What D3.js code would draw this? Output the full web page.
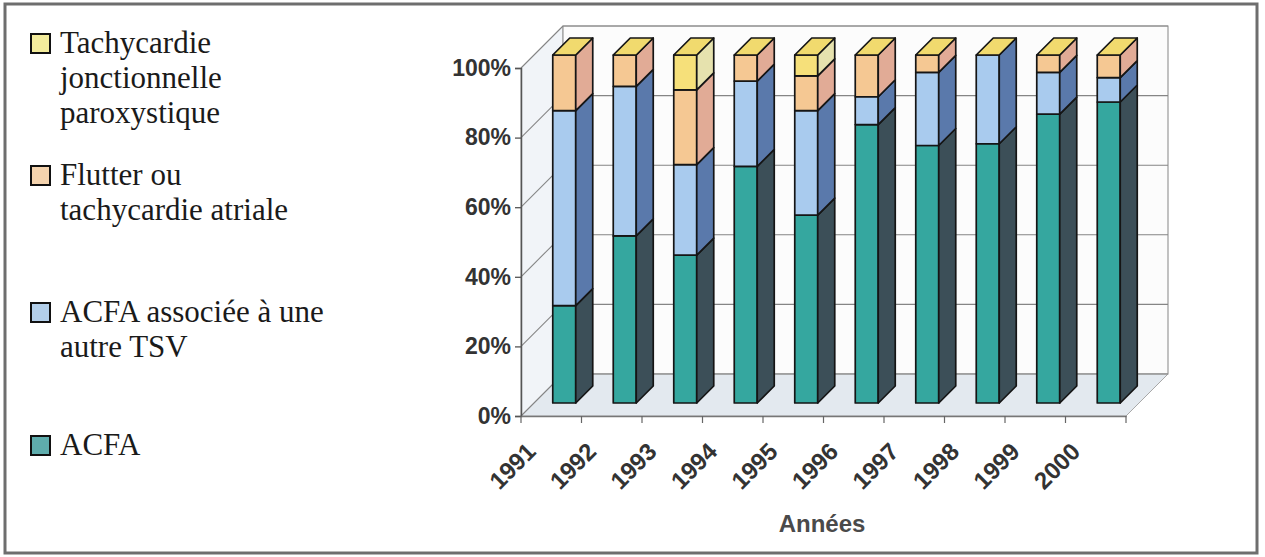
<!DOCTYPE html>
<html>
<head>
<meta charset="utf-8">
<script src="https://cdn.jsdelivr.net/npm/d3@7"></script>
<style>
  body { margin: 0; background: #fff; }
  svg { display: block; }
</style>
</head>
<body>
<svg id="chart"></svg>
<script>
// données (en %)
const years = ["1991", "1992", "1993", "1994", "1995", "1996", "1997", "1998", "1999", "2000"];
const acfa = [28, 48, 42.5, 68, 54, 80, 74, 74.5, 83, 86.5];
const acfaAssoc = [56, 43, 26, 24.5, 30, 8, 21, 25.5, 12, 7];
const flutter = [16, 9, 21.5, 7.5, 10, 12, 5, 0, 5, 6.5];
const tachy = [0, 0, 10, 0, 6, 0, 0, 0, 0, 0];
const yTicks = [0, 20, 40, 60, 80, 100];

const seriesKeys = ["acfa", "assoc", "flutter", "tachy"];
const legendLabels = [
  ["Tachycardie", "jonctionnelle", "paroxystique"],
  ["Flutter ou", "tachycardie atriale"],
  ["ACFA associée à une", "autre TSV"],
  ["ACFA"]
];

const W = 1265, H = 557;
const svg = d3.select("#chart").attr("width", W).attr("height", H);

// cadre extérieur
svg.append("rect")
  .attr("x", 5).attr("y", 4).attr("width", 1252).attr("height", 549)
  .attr("fill", "#fff").attr("stroke", "#6e6e6e").attr("stroke-width", 3);

// couleurs : face avant, côté, dessus
const colors = {
  acfa:    { front: "#35a79f", side: "#3c4f58", top: "#3fb0a8" },
  assoc:   { front: "#a9cbee", side: "#5a79ab", top: "#9dc2e8" },
  flutter: { front: "#f5c893", side: "#e1ab96", top: "#f2c48c" },
  tachy:   { front: "#f6e07a", side: "#e6e2ae", top: "#f1da6e" }
};
const legendFill = ["#f3ec9c", "#f4d3ae", "#b3cfea", "#5fadad"];

// géométrie 3D
const x0 = 521, x1 = 1126;
const depth = 42;            // profondeur du plancher
const barFront = 13, barBack = 30;

const xBand = d3.scaleBand().domain(years).range([x0, x1]);
const xBar = d3.scaleBand().domain(years).range([x0, x1])
  .paddingInner(0.62).paddingOuter(0.31);
const y = d3.scaleLinear().domain([0, 100]).range([416, 68]);

const table = years.map((yr, i) => ({
  year: yr, acfa: acfa[i], assoc: acfaAssoc[i], flutter: flutter[i], tachy: tachy[i]
}));
const stacked = d3.stack().keys(seriesKeys)(table);

const pts = a => a.map(p => p.join(",")).join(" ");

// mur gauche
svg.append("polygon")
  .attr("points", pts([[x0, y(0)], [x0, y(100)], [x0 + depth, y(100) - depth], [x0 + depth, y(0) - depth]]))
  .attr("fill", "#f1f4f8").attr("stroke", "#9a9a9a").attr("stroke-width", 1);

// mur du fond
svg.append("polygon")
  .attr("points", pts([[x0 + depth, y(0) - depth], [x0 + depth, y(100) - depth], [x1 + depth, y(100) - depth], [x1 + depth, y(0) - depth]]))
  .attr("fill", "#fcfcfc").attr("stroke", "#9a9a9a").attr("stroke-width", 1.2);

// plancher
svg.append("polygon")
  .attr("points", pts([[x0, y(0)], [x1, y(0)], [x1 + depth, y(0) - depth], [x0 + depth, y(0) - depth]]))
  .attr("fill", "#e3e9ef").attr("stroke", "#a8a8a8").attr("stroke-width", 1);

// quadrillage
const grid = svg.append("g").attr("stroke", "#858585").attr("stroke-width", 1.1).attr("fill", "none");
yTicks.forEach(t => {
  grid.append("line")
    .attr("x1", x0).attr("y1", y(t)).attr("x2", x0 + depth).attr("y2", y(t) - depth);
  grid.append("line")
    .attr("x1", x0 + depth).attr("y1", y(t) - depth).attr("x2", x1 + depth).attr("y2", y(t) - depth);
});

// axe Y
const yAxis = d3.axisLeft(y).tickValues(yTicks).tickFormat(d => d + "%").tickSize(6).tickPadding(4);
const gy = svg.append("g").attr("transform", `translate(${x0},0)`).call(yAxis);
gy.select(".domain").attr("stroke", "#555").attr("stroke-width", 1.5);
gy.selectAll(".tick line").attr("stroke", "#555").attr("stroke-width", 1.3);
gy.selectAll(".tick text")
  .attr("fill", "#333")
  .style("font-family", "'Liberation Sans', Arial, sans-serif")
  .style("font-weight", "bold").style("font-size", "23px");

// axe X
const xAxis = d3.axisBottom(xBand).tickSize(0).tickFormat("");
const gx = svg.append("g").attr("transform", `translate(0,${y(0)})`).call(xAxis);
gx.select(".domain").attr("stroke", "#777").attr("stroke-width", 1.5);
gx.selectAll(".bnd").data(years.concat(["end"])).enter().append("line")
  .attr("x1", (d, i) => x0 + i * xBand.step()).attr("x2", (d, i) => x0 + i * xBand.step())
  .attr("y1", 0).attr("y2", 7).attr("stroke", "#666").attr("stroke-width", 1.2);
gx.selectAll(".yr").data(years).enter().append("text")
  .attr("transform", d => `translate(${xBand(d) + xBand.bandwidth() / 2 - 14},${37}) rotate(-45)`)
  .attr("text-anchor", "end")
  .attr("fill", "#333")
  .style("font-family", "'Liberation Sans', Arial, sans-serif")
  .style("font-weight", "bold").style("font-size", "24px")
  .text(d => d);

svg.append("text")
  .attr("x", 822).attr("y", 532).attr("text-anchor", "middle")
  .attr("fill", "#4a4a4a")
  .style("font-family", "'Liberation Sans', Arial, sans-serif")
  .style("font-weight", "bold").style("font-size", "24px")
  .text("Années");

// barres empilées en 3D
const bars = svg.append("g").attr("stroke", "#151515").attr("stroke-width", 1.7).attr("stroke-linejoin", "round");
const bw = xBar.bandwidth();
const dd = barBack - barFront;
years.forEach((yr, i) => {
  const bx = xBar(yr) + barFront;
  const g = bars.append("g");
  stacked.forEach(s => {
    const [v0, v1] = s[i];
    if (v1 - v0 <= 0) return;
    const c = colors[s.key];
    const yt = y(v1) - barFront, yb = y(v0) - barFront;
    g.append("rect").attr("x", bx).attr("y", yt).attr("width", bw).attr("height", yb - yt).attr("fill", c.front);
    g.append("polygon")
      .attr("points", pts([[bx + bw, yt], [bx + bw + dd, yt - dd], [bx + bw + dd, yb - dd], [bx + bw, yb]]))
      .attr("fill", c.side);
  });
  // dessus de la pile : couleur de la dernière série
  const last = stacked[stacked.length - 1];
  const yt = y(last[i][1]) - barFront;
  g.append("polygon")
    .attr("points", pts([[bx, yt], [bx + dd, yt - dd], [bx + bw + dd, yt - dd], [bx + bw, yt]]))
    .attr("fill", colors[last.key].top);
});

// légende
const leg = svg.append("g")
  .style("font-family", "'Liberation Serif', 'Times New Roman', serif")
  .style("font-size", "31px").attr("fill", "#1a1a1a");
const legendY = [53, 185, 322, 455];
legendLabels.forEach((lines, k) => {
  leg.append("rect")
    .attr("x", 31).attr("y", legendY[k] - 19).attr("width", 19).attr("height", 19)
    .attr("fill", legendFill[k]).attr("stroke", "#111").attr("stroke-width", 2);
  lines.forEach((t, j) => {
    leg.append("text").attr("x", 60).attr("y", legendY[k] + j * 35).text(t);
  });
});
</script>
</body>
</html>
